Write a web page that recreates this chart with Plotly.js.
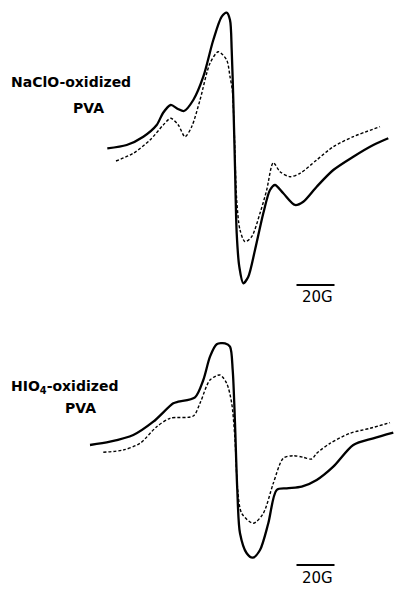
<!DOCTYPE html>
<html>
<head>
<meta charset="utf-8">
<script src="https://cdn.plot.ly/plotly-3.0.1.min.js"></script>
<style>html,body{margin:0;padding:0;background:#fff;}#chart{width:395px;height:589px;}</style>
</head>
<body>
<div id="chart"></div>
<script>
// Field positions (arbitrary field units; 38 units = 20 G) and signal amplitudes (a.u.)
const naclo_solid_field = [107.3,126.7,143.3,156.7,163,170.7,178,184,193.3,203.3,213.3,221.7,226.7,230,231.7,233.3,235,236.7,239.3,243.3,248.3,255,263.3,270,275,283.3,295,303.3,316.7,333.3,353.3,373.3,388.3];
const naclo_solid_signal = [1.7,5,13.3,25,37,45,41,39,50,73.3,110,133.3,137.3,130,100,50,-16.7,-83.3,-116.7,-133.3,-126.7,-100,-63.3,-40,-35,-43.3,-55,-51.7,-36.7,-20,-6.7,5,11.7];

const naclo_dash_field = [116,133.3,150,163.3,170.7,178.3,185,191.7,200,210,218.3,226.7,230,232.3,234.3,236.7,240,245,251.7,260,266.7,273.3,280,290,300,316.7,333.3,353.3,380];
const naclo_dash_signal = [-11,-3.3,10,25,31.7,25,13.3,23.3,50,86.7,98.3,90,73.3,60,16.7,-50,-80,-91.7,-86.7,-63.3,-40,-12.7,-21.7,-26.7,-23.3,-10,3.3,13.3,23.3];

const hio4_solid_field = [90,110,133.3,153.3,173.3,178.3,195,203.3,210,216.7,225,230,232.7,235,237.3,240,246.7,252.7,260,268.3,276.7,286.7,301.7,316.7,333.3,353.3,373.3,393.3];
const hio4_solid_signal = [25,28.3,35,48.3,66.7,68.3,72.7,90,113.3,125.7,126.7,123.3,100,46.7,-20,-63.3,-83.3,-87.7,-80,-53.3,-20,-18.3,-16.7,-10,3.3,25,31.7,37.3];

const hio4_dash_field = [103.3,123.3,140,156.7,170,193.3,200,210,220,226.7,231.7,235,237.7,241.7,253.3,263.3,273.3,283.3,293.3,303.3,311.7,316.7,330,350,370,390];
const hio4_dash_signal = [17.7,20,26.7,43.3,51.7,54,66.7,90,95,86.7,66.7,30,-20,-43.3,-53.3,-43.3,-13.3,11.7,14.3,12.7,11,16.7,26.7,36.7,41.7,47.3];

// 20 G scale bars
const scale_top_field = [296.5, 334.5];
const scale_top_signal = [-135, -135];
const scale_bot_field = [296.5, 334.5];
const scale_bot_signal = [-95, -95];

const labels = ["NaClO-oxidized", "PVA", "HIO<sub>4</sub>-oxidized", "PVA", "20G", "20G"];

const solid = {color:'#000', width:2.3, shape:'spline', smoothing:0.8};
const dashed = {color:'#000', width:1.4, dash:'3px,2px', shape:'spline', smoothing:0.8};

const traces = [
  {x:naclo_solid_field, y:naclo_solid_signal, mode:'lines', line:solid, xaxis:'x', yaxis:'y'},
  {x:naclo_dash_field, y:naclo_dash_signal, mode:'lines', line:dashed, xaxis:'x', yaxis:'y'},
  {x:hio4_solid_field, y:hio4_solid_signal, mode:'lines', line:solid, xaxis:'x2', yaxis:'y2'},
  {x:hio4_dash_field, y:hio4_dash_signal, mode:'lines', line:dashed, xaxis:'x2', yaxis:'y2'},
  {x:scale_top_field, y:scale_top_signal, mode:'lines', line:{color:'#000', width:1.8}, xaxis:'x', yaxis:'y'},
  {x:scale_bot_field, y:scale_bot_signal, mode:'lines', line:{color:'#000', width:1.8}, xaxis:'x2', yaxis:'y2'}
];

const ax = {visible:false, showgrid:false, zeroline:false, fixedrange:true};
const font = {family:'DejaVu Sans', size:14, color:'#000', weight:'bold'};
const sfont = {family:'DejaVu Sans', size:15, color:'#000'};

const layout = {
  width:395, height:589,
  margin:{l:0, r:0, t:0, b:0},
  paper_bgcolor:'#fff', plot_bgcolor:'#fff',
  showlegend:false,
  xaxis:Object.assign({range:[0,395], domain:[0,1], anchor:'y'}, ax),
  yaxis:Object.assign({range:[-150,150], domain:[0.4907,1], anchor:'x'}, ax),
  xaxis2:Object.assign({range:[0,395], domain:[0,1], anchor:'y2'}, ax),
  yaxis2:Object.assign({range:[-119,170], domain:[0,0.4907], anchor:'x2'}, ax),
  annotations:[
    {text:labels[0], xref:'paper', yref:'paper', x:9/395, y:1-82/589, xanchor:'left', yanchor:'middle', showarrow:false, font:font},
    {text:labels[1], xref:'paper', yref:'paper', x:88/395, y:1-108/589, xanchor:'center', yanchor:'middle', showarrow:false, font:font},
    {text:labels[2], xref:'paper', yref:'paper', x:9/395, y:1-387/589, xanchor:'left', yanchor:'middle', showarrow:false, font:font},
    {text:labels[3], xref:'paper', yref:'paper', x:80/395, y:1-408/589, xanchor:'center', yanchor:'middle', showarrow:false, font:font},
    {text:labels[4], xref:'paper', yref:'paper', x:317/395, y:1-297/589, xanchor:'center', yanchor:'middle', showarrow:false, font:sfont},
    {text:labels[5], xref:'paper', yref:'paper', x:317/395, y:1-578/589, xanchor:'center', yanchor:'middle', showarrow:false, font:sfont}
  ]
};

Plotly.newPlot('chart', traces, layout, {staticPlot:true, displayModeBar:false});
</script>
</body>
</html>
